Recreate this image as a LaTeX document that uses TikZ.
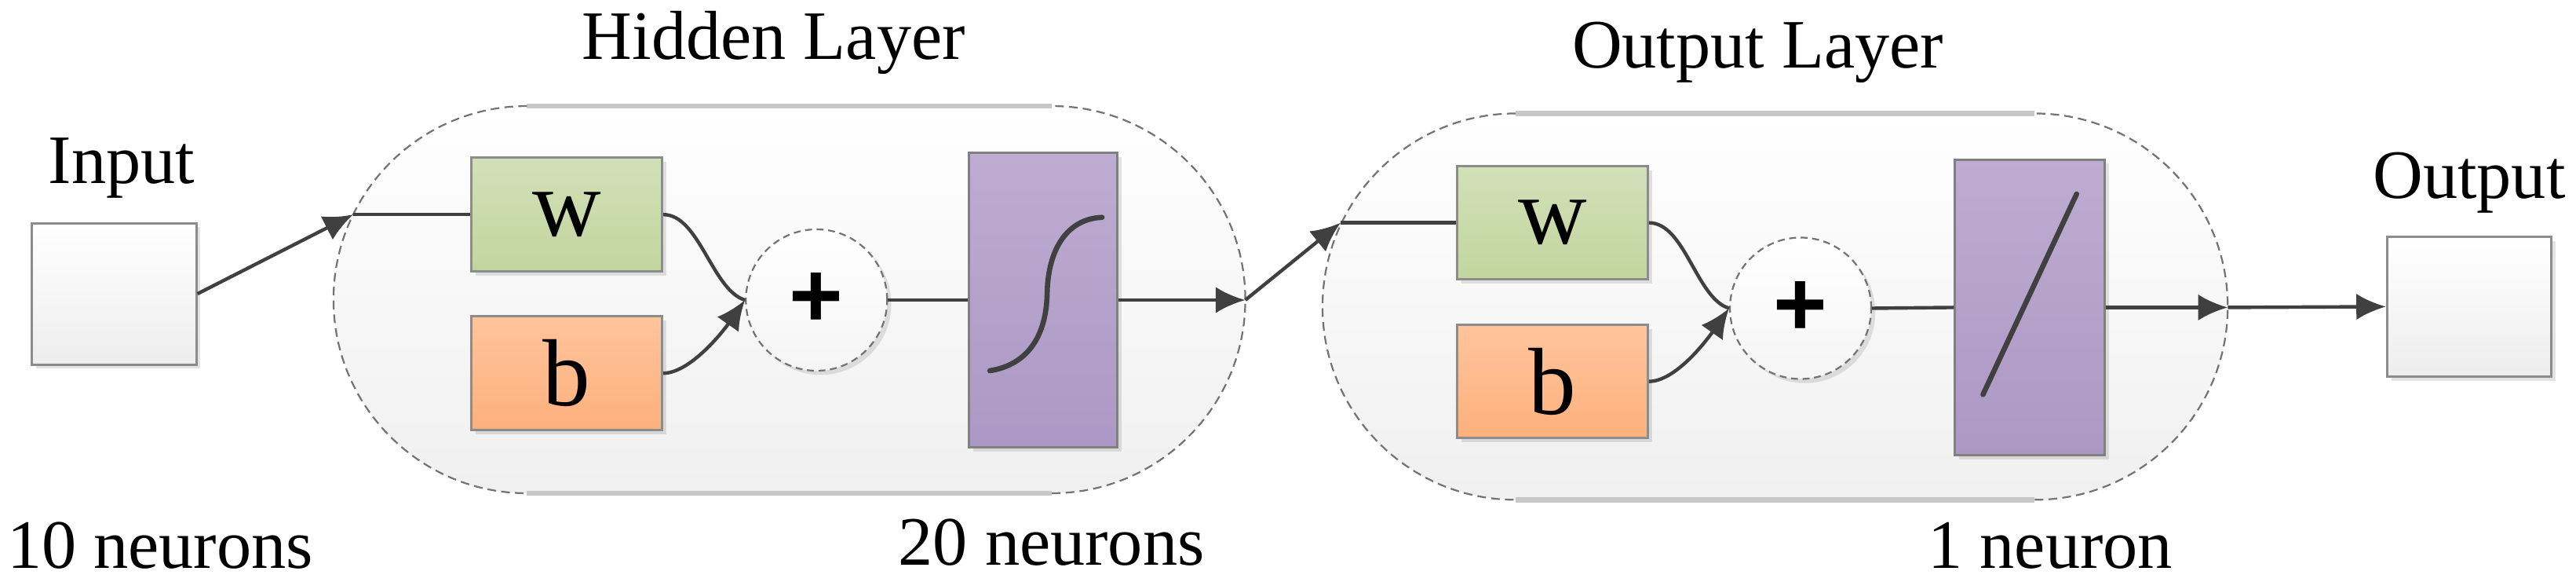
\documentclass[tikz,border=0pt]{standalone}
\usepackage{fontspec}
\setmainfont{Liberation Serif}
\newfontfamily\plusfont{Liberation Sans}
\usetikzlibrary{arrows.meta,shapes.misc,shadows}
\definecolor{gtop}{RGB}{210,224,184}
\definecolor{gbot}{RGB}{194,213,158}
\definecolor{otop}{RGB}{255,196,156}
\definecolor{obot}{RGB}{253,176,124}
\definecolor{ptop}{RGB}{190,172,210}
\definecolor{pbot}{RGB}{172,152,196}
\definecolor{edge}{RGB}{64,64,64}
\begin{document}
\begin{tikzpicture}[
  conn/.style={draw=edge, line width=0.6pt},
  arr/.style={conn, -{Latex[length=0.18cm,width=0.16cm]}},
  lbl/.style={font=\fontsize{12}{14}\selectfont, inner sep=0pt},
  shad/.style={drop shadow={shadow xshift=0.025cm, shadow yshift=-0.025cm, opacity=0.22}},
  wbox/.style={rectangle, draw=black!45, line width=0.4pt, top color=gtop, bottom color=gbot, minimum width=1.16cm, minimum height=0.69cm, inner sep=0pt, font=\fontsize{16.5}{18}\selectfont, shad},
  bbox/.style={wbox, top color=otop, bottom color=obot},
  actbox/.style={rectangle, draw=black!50, line width=0.4pt, top color=ptop, bottom color=pbot, minimum width=0.9cm, minimum height=1.79cm, inner sep=0pt, shad},
  iobox/.style={rectangle, draw=black!45, line width=0.4pt, top color=white, bottom color=black!7, minimum width=1.0cm, minimum height=0.86cm, inner sep=0pt, shad},
  plusnode/.style={circle, draw=black!55, dash pattern=on 1.2pt off 0.8pt, line width=0.3pt, top color=white, bottom color=black!4, minimum size=0.86cm, inner sep=0pt, font=\plusfont\bfseries\fontsize{16}{18}\selectfont, shad},
  layer/.style={rounded rectangle, inner sep=0pt, top color=white, bottom color=black!6},
  laystr/.style={draw=black!22, line width=0.9pt},
  layarc/.style={draw=black!55, line width=0.3pt, dash pattern=on 1.5pt off 0.9pt},
  curve/.style={draw=edge, line width=0.9pt, line cap=round}
]
\useasboundingbox (0,0) rectangle (15.68,-3.54);

% layers
\node[layer, minimum width=5.55cm, minimum height=2.355cm] (hid) at (4.805,-1.8225) {};
\draw[laystr] (3.2075,-0.645) -- (6.4025,-0.645);
\draw[laystr] (3.2075,-3.00) -- (6.4025,-3.00);
\draw[layarc] (3.2075,-0.645) arc[start angle=90,end angle=270,radius=1.1775cm];
\draw[layarc] (6.4025,-3.00) arc[start angle=-90,end angle=90,radius=1.1775cm];

\node[layer, minimum width=5.51cm, minimum height=2.35cm] (outl) at (10.805,-1.865) {};
\draw[laystr] (9.225,-0.69) -- (12.385,-0.69);
\draw[laystr] (9.225,-3.04) -- (12.385,-3.04);
\draw[layarc] (9.225,-0.69) arc[start angle=90,end angle=270,radius=1.175cm];
\draw[layarc] (12.385,-3.04) arc[start angle=-90,end angle=90,radius=1.175cm];

% labels
\node[lbl] (tin) at (0.74,-1.02) {Input};
\node[lbl] (tn10) at (0.975,-3.32) {10 neurons};
\node[lbl] (thid) at (4.71,-0.26) {Hidden Layer};
\node[lbl] (tn20) at (6.40,-3.30) {20 neurons};
\node[lbl] (tout) at (10.70,-0.32) {Output Layer};
\node[lbl] (tn1) at (12.48,-3.32) {1 neuron};
\node[lbl] (toutp) at (15.03,-1.11) {Output};

% boxes
\node[iobox] (inbox) at (0.695,-1.787) {};
\node[iobox, minimum height=0.85cm] (outbox) at (15.03,-1.865) {};

\node[wbox] (hw) at (3.45,-1.305) {w};
\node[bbox] (hb) at (3.45,-2.27) {b};
\node[plusnode] (hplus) at (4.97,-1.825) {+};
\node[actbox] (hsig) at (6.35,-1.825) {};

\node[wbox] (ow) at (9.45,-1.355) {w};
\node[bbox] (ob) at (9.45,-2.32) {b};
\node[plusnode] (oplus) at (10.96,-1.875) {+};
\node[actbox, minimum width=0.91cm, minimum height=1.80cm] (olin) at (12.355,-1.87) {};

% activation glyphs
\draw[curve] (6.025,-2.255) .. controls (6.25,-2.22) and (6.37,-2.05) .. (6.374,-1.78)
             .. controls (6.38,-1.51) and (6.50,-1.33) .. (6.708,-1.322);
\draw[curve] (12.07,-2.40) -- (12.64,-1.18);

% connection points on layer borders
\coordinate (hin) at (2.15,-1.305);
\coordinate (hout) at (7.58,-1.825);
\coordinate (oin) at (8.16,-1.355);
\coordinate (oout) at (13.56,-1.87);

% connectors
\draw[arr] (inbox.east) -- (hin);
\draw[conn] (hin) -- (hw.west);
\draw[conn] (hw.east) .. controls +(0.22,0) and +(-0.2,0.06) .. (hplus.west);
\draw[arr] (hb.east) .. controls +(0.16,0) and +(-0.14,-0.2) .. (hplus.west);
\draw[conn] (hplus.east) -- (hsig.west);
\draw[arr] (hsig.east) -- (hout);
\draw[arr] (hout) -- (oin);
\draw[conn] (oin) -- (ow.west);
\draw[conn] (ow.east) .. controls +(0.22,0) and +(-0.2,0.06) .. (oplus.west);
\draw[arr] (ob.east) .. controls +(0.16,0) and +(-0.14,-0.2) .. (oplus.west);
\draw[conn] (oplus.east) -- (olin.west);
\draw[arr] (olin.east) -- (oout);
\draw[arr] (oout) -- (outbox.west);
\end{tikzpicture}
\end{document}
